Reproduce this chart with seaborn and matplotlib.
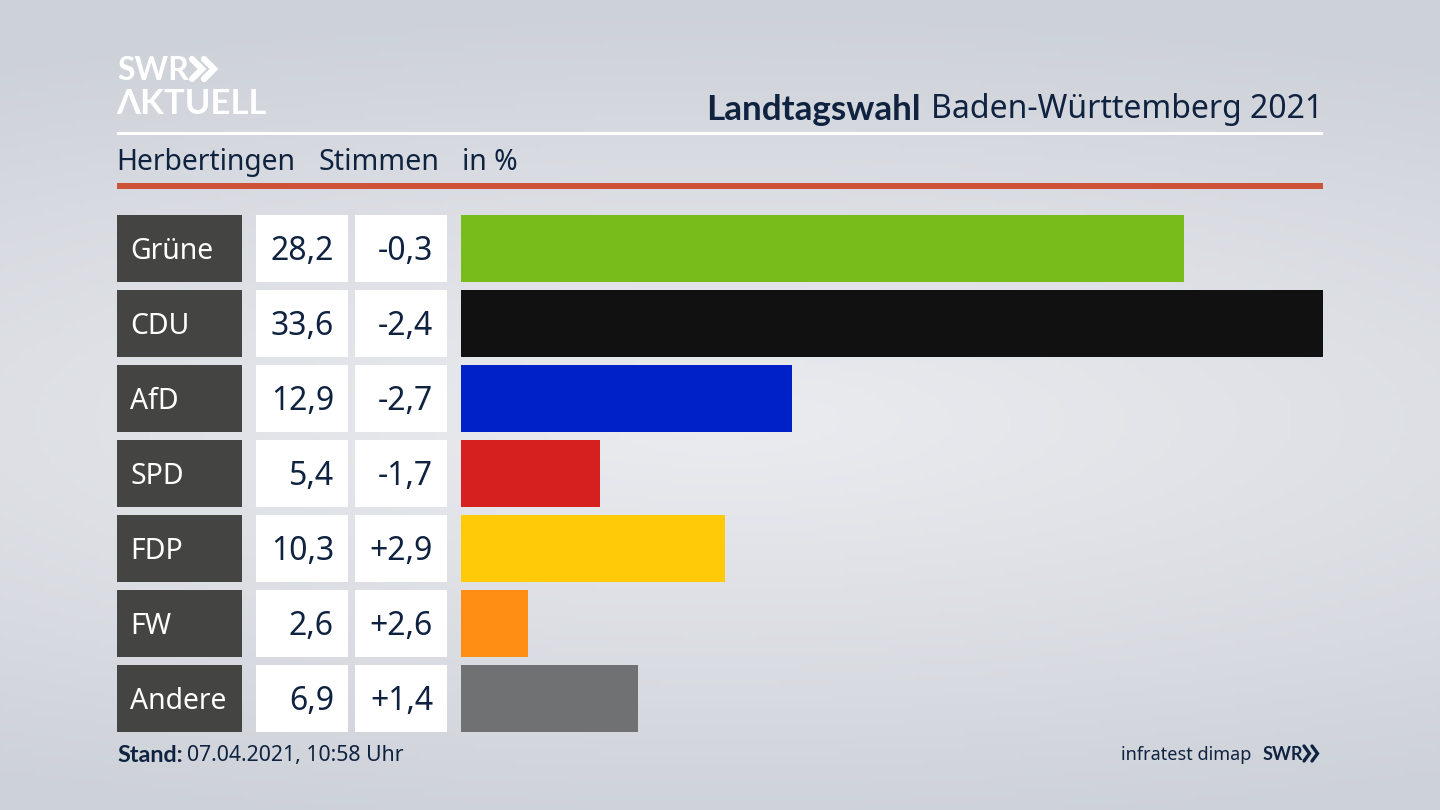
import numpy as np
import pandas as pd
import matplotlib
matplotlib.use('Agg')
import matplotlib.pyplot as plt
from matplotlib.patches import Rectangle
import seaborn as sns

parteien = ['Grüne', 'CDU', 'AfD', 'SPD', 'FDP', 'FW', 'Andere']
stimmen = [28.2, 33.6, 12.9, 5.4, 10.3, 2.6, 6.9]
diff = ['-0,3', '-2,4', '-2,7', '-1,7', '+2,9', '+2,6', '+1,4']
farben = ['#78bc1b', '#111111', '#0021c8', '#d61f1f', '#ffcb08', '#ff8f14', '#707173']

NAVY = '#0f2240'
DUNKEL = '#444442'
FETT = ['Lato', 'DejaVu Sans']

sns.set_theme(style='white')
plt.rcParams['font.family'] = ['Noto Sans', 'DejaVu Sans']

fig = plt.figure(figsize=(14.4, 8.1), dpi=100)

# hintergrund: hell in der mitte, grau oben und unten
bg = fig.add_axes([0, 0, 1, 1], zorder=0)
yy, xx = np.mgrid[0:1:162j, 0:1:288j]
d = np.sqrt(((xx - 0.5) * 0.75) ** 2 + ((yy - 0.52) * 1.55) ** 2)
bg.imshow(np.clip(d / 0.8, 0, 1), cmap=matplotlib.colors.LinearSegmentedColormap.from_list(
    'bg', ['#ebecf0', '#cdd1d8']), aspect='auto', extent=(0, 1440, 810, 0))
bg.set_xlim(0, 1440)
bg.set_ylim(810, 0)
bg.axis('off')

# balken
df = pd.DataFrame({'Partei': parteien, 'Stimmen': stimmen})
ax = fig.add_axes([461 / 1440, 1 - 736 / 810, 862 / 1440, 525 / 810], zorder=1)
sns.barplot(data=df, x='Stimmen', y='Partei', hue='Partei', palette=farben, legend=False,
            width=66.5 / 75, saturation=1, linewidth=0, ax=ax)
ax.set_xlim(0, 33.6)
ax.set_ylim(6.5, -0.5)
ax.axis('off')

# tabelle links, kopf und fuss in pixeln
top = 215
for i, p in enumerate(parteien):
    y = top + i * 75
    bg.add_patch(Rectangle((117, y), 124.5, 66.5, color=DUNKEL, lw=0))
    bg.add_patch(Rectangle((256, y), 92, 66.5, color='white', lw=0))
    bg.add_patch(Rectangle((355, y), 92, 66.5, color='white', lw=0))
    bg.text(130, y + 36.5, p, color='white', fontsize=20.4, va='center', ha='left')
    bg.text(334, y + 36.5, f'{stimmen[i]:.1f}'.replace('.', ','), color=NAVY, fontsize=23,
            va='center', ha='right')
    bg.text(433, y + 36.5, diff[i], color=NAVY, fontsize=23, va='center', ha='right')

# kopf
bg.add_patch(Rectangle((117, 132), 1206, 3, color='white', lw=0))
bg.add_patch(Rectangle((117, 183), 1206, 6, color='#cd5238', lw=0))
bg.text(116.5, 162.5, 'Herbertingen', color=NAVY, fontsize=20.4, va='center')
bg.text(318, 162.5, 'Stimmen', color=NAVY, fontsize=20.6, va='center')
bg.text(462, 162.5, 'in %', color=NAVY, fontsize=20.4, va='center')
bg.text(1323, 109.5, 'Baden-Württemberg 2021', color=NAVY, fontsize=23, va='center', ha='right')
bg.text(921, 109.5, 'Landtagswahl', color=NAVY, fontsize=25.2, va='center', ha='right',
        fontweight='bold', family=FETT)

# logo
bg.text(117, 70, 'SWR', color='white', fontsize=23, fontweight='bold', va='center', family=FETT)
bg.text(116, 104, 'ΛKTUELL', color='white', fontsize=25, fontweight='bold', va='center', family=FETT)
for x0 in (192, 204):
    bg.plot([x0, x0 + 10, x0], [59, 69, 79], color='white', lw=4.5, solid_joinstyle='miter')

# fuss
bg.text(117, 755.5, 'Stand:', color=NAVY, fontsize=16.8, fontweight='bold', va='center', family=FETT)
bg.text(187, 755.5, '07.04.2021, 10:58 Uhr', color=NAVY, fontsize=15.3, va='center')
bg.text(1251, 754.5, 'infratest dimap', color=NAVY, fontsize=13, va='center', ha='right')
bg.text(1263, 754, 'SWR', color=NAVY, fontsize=13, fontweight='bold', va='center', family=FETT)
for x0 in (1304, 1312):
    bg.plot([x0, x0 + 5.5, x0], [746, 753.5, 761], color=NAVY, lw=2.4, solid_joinstyle='miter')

fig.savefig('out.png', dpi=100)
